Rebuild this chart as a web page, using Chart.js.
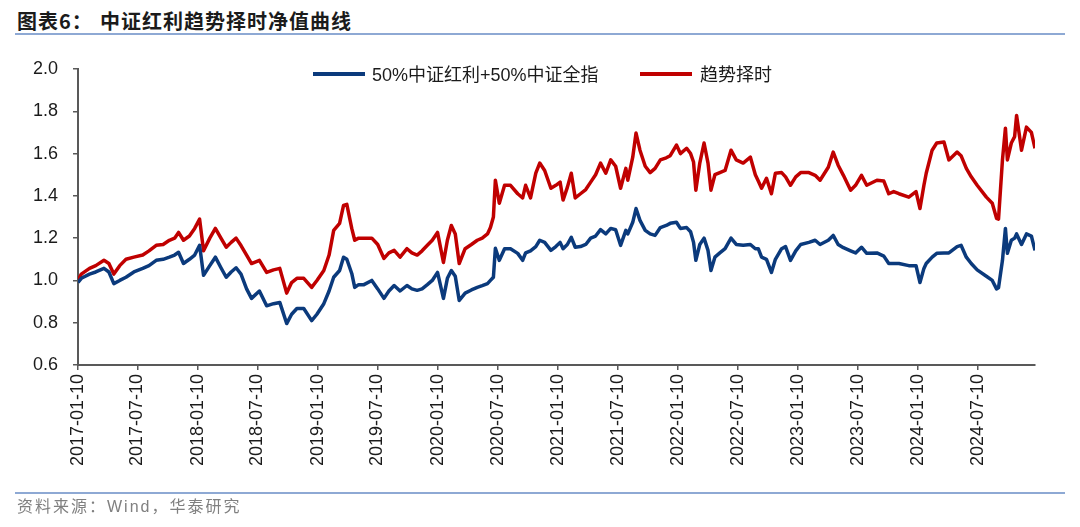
<!DOCTYPE html>
<html>
<head>
<meta charset="utf-8">
<script src="https://cdn.jsdelivr.net/npm/chart.js@4.4.1/dist/chart.umd.min.js"></script>
<style>
    body { margin: 0; background: #fff; width: 1080px; height: 527px; overflow: hidden; position: relative; font-family: "Liberation Sans", "Noto Sans CJK SC", sans-serif; }
    #chartBox { position: absolute; left: 0; top: 0; width: 1080px; height: 527px; }
    .title { position: absolute; top: 11px; font: bold 20px "Noto Sans CJK SC", sans-serif; letter-spacing: 1px; color: #1b1b1b; line-height: 20px; white-space: nowrap; }
    .hline { position: absolute; left: 15px; width: 1050px; height: 1.5px; background: #8ea9d4; }
    .legend-line { position: absolute; width: 52px; height: 4px; }
    .legend-text { position: absolute; top: 65px; font-size: 18px; line-height: 20px; color: #1b1b1b; white-space: nowrap; }
    #source { position: absolute; left: 17px; top: 498px; font-size: 16px; letter-spacing: 2px; color: #808080; line-height: 18px; white-space: nowrap; }
</style>
</head>
<body>
<div class="title" style="left:17px">图表6：</div>
<div class="title" style="left:100px">中证红利趋势择时净值曲线</div>
<div class="hline" style="top:33px"></div>

<div id="chartBox"><canvas id="navChart" width="1080" height="527"></canvas></div>

<div class="legend-line" style="left:313px;top:72px;background:#0b3a7c"></div>
<div class="legend-text" style="left:372px">50%中证红利+50%中证全指</div>
<div class="legend-line" style="left:640px;top:72px;background:#c00000"></div>
<div class="legend-text" style="left:700px">趋势择时</div>

<div class="hline" style="top:492px"></div>
<div id="source">资料来源：Wind，华泰研究</div>

<script>
// data
const dates = [
    '2017-01-10','2017-01-20','2017-02-14','2017-03-05','2017-03-30','2017-04-14','2017-04-29','2017-05-17','2017-06-05','2017-06-29',
    '2017-07-26','2017-08-14','2017-09-05','2017-09-26','2017-10-15','2017-10-31','2017-11-12','2017-11-27','2017-12-15','2017-12-31',
    '2018-01-15','2018-01-27','2018-02-15','2018-03-04','2018-03-21','2018-04-06','2018-04-21','2018-05-06','2018-05-21','2018-06-07',
    '2018-06-22','2018-07-16','2018-08-07','2018-08-28','2018-09-16','2018-10-07','2018-10-22','2018-11-07','2018-11-28','2018-12-22',
    '2019-01-07','2019-01-28','2019-02-13','2019-02-27','2019-03-17','2019-03-29','2019-04-08','2019-04-23','2019-05-02','2019-05-14',
    '2019-05-30','2019-06-23','2019-07-11','2019-07-30','2019-08-14','2019-08-30','2019-09-17','2019-10-08','2019-10-23','2019-11-08',
    '2019-11-23','2019-12-09','2019-12-24','2020-01-09','2020-01-27','2020-02-08','2020-02-20','2020-03-03','2020-03-15','2020-04-02',
    '2020-04-21','2020-05-09','2020-05-24','2020-06-09','2020-06-18','2020-06-27','2020-07-03','2020-07-15','2020-07-31','2020-08-18',
    '2020-09-09','2020-09-24','2020-10-03','2020-10-18','2020-11-03','2020-11-15','2020-11-30','2020-12-19','2021-01-03','2021-01-16',
    '2021-01-25','2021-02-07','2021-02-19','2021-03-03','2021-03-19','2021-04-04','2021-04-19','2021-05-04','2021-05-19','2021-06-04',
    '2021-06-19','2021-07-04','2021-07-19','2021-08-04','2021-08-10','2021-08-25','2021-09-04','2021-09-16','2021-10-02','2021-10-17',
    '2021-11-01','2021-11-17','2021-12-05','2021-12-17','2022-01-05','2022-01-17','2022-02-05','2022-02-17','2022-02-26','2022-03-05',
    '2022-03-17','2022-03-30','2022-04-11','2022-04-20','2022-05-02','2022-05-17','2022-06-02','2022-06-20','2022-07-06','2022-07-27',
    '2022-08-18','2022-09-02','2022-09-11','2022-09-21','2022-10-06','2022-10-21','2022-11-02','2022-11-21','2022-12-03','2022-12-18',
    '2023-01-03','2023-01-18','2023-02-12','2023-03-03','2023-03-18','2023-04-12','2023-04-27','2023-05-12','2023-05-28','2023-06-19',
    '2023-07-04','2023-07-22','2023-08-07','2023-09-07','2023-09-28','2023-10-13','2023-10-28','2023-11-13','2023-12-13','2024-01-04',
    '2024-01-16','2024-01-28','2024-02-04','2024-02-22','2024-03-07','2024-03-29','2024-04-13','2024-05-08','2024-05-20','2024-06-05',
    '2024-06-20','2024-07-08','2024-08-05','2024-08-23','2024-09-05','2024-09-11','2024-09-23','2024-10-02','2024-10-08','2024-10-20',
    '2024-10-30','2024-11-05','2024-11-20','2024-12-05','2024-12-20','2024-12-31'
];

// 50%中证红利+50%中证全指
const benchmark = [
    0.99, 1.01, 1.03, 1.04, 1.057, 1.04, 0.985, 1.00, 1.015, 1.04,
    1.057, 1.07, 1.095, 1.10, 1.11, 1.12, 1.133, 1.08, 1.10, 1.12,
    1.166, 1.024, 1.07, 1.11, 1.06, 1.015, 1.04, 1.06, 1.03, 0.96,
    0.915, 0.95, 0.88, 0.89, 0.896, 0.796, 0.84, 0.867, 0.867, 0.81,
    0.84, 0.89, 0.95, 1.015, 1.047, 1.11, 1.10, 1.033, 0.967, 0.98,
    0.98, 1.00, 0.96, 0.915, 0.95, 0.976, 0.95, 0.976, 0.96, 0.953,
    0.96, 0.98, 1.00, 1.038, 0.915, 1.01, 1.047, 1.02, 0.905, 0.94,
    0.955, 0.967, 0.975, 0.985, 1.00, 1.015, 1.152, 1.095, 1.15, 1.15,
    1.128, 1.095, 1.13, 1.14, 1.16, 1.19, 1.18, 1.142, 1.16, 1.18,
    1.15, 1.17, 1.204, 1.157, 1.16, 1.17, 1.20, 1.21, 1.24, 1.22,
    1.246, 1.24, 1.166, 1.237, 1.22, 1.275, 1.34, 1.284, 1.237, 1.22,
    1.213, 1.25, 1.26, 1.27, 1.275, 1.246, 1.25, 1.23, 1.18, 1.095,
    1.17, 1.20, 1.142, 1.047, 1.11, 1.13, 1.15, 1.20, 1.17, 1.166,
    1.17, 1.15, 1.15, 1.11, 1.10, 1.038, 1.10, 1.15, 1.16, 1.095,
    1.14, 1.17, 1.18, 1.19, 1.17, 1.19, 1.213, 1.17, 1.155, 1.14,
    1.13, 1.157, 1.128, 1.13, 1.115, 1.08, 1.08, 1.08, 1.07, 1.07,
    0.99, 1.057, 1.08, 1.11, 1.128, 1.13, 1.13, 1.16, 1.166, 1.11,
    1.08, 1.05, 1.02, 1.00, 0.96, 0.965, 1.095, 1.246, 1.128, 1.19,
    1.20, 1.22, 1.17, 1.22, 1.21, 1.142
];

// 趋势择时
const timing = [
    1.00, 1.03, 1.057, 1.07, 1.095, 1.08, 1.03, 1.07, 1.10, 1.11,
    1.12, 1.14, 1.166, 1.17, 1.19, 1.20, 1.227, 1.19, 1.21, 1.246,
    1.29, 1.14, 1.20, 1.246, 1.20, 1.157, 1.18, 1.20, 1.165, 1.12,
    1.08, 1.095, 1.038, 1.05, 1.057, 0.94, 0.99, 1.01, 1.01, 0.967,
    1.00, 1.047, 1.12, 1.237, 1.27, 1.355, 1.36, 1.246, 1.19, 1.20,
    1.20, 1.20, 1.17, 1.104, 1.13, 1.142, 1.11, 1.15, 1.13, 1.12,
    1.14, 1.166, 1.19, 1.227, 1.085, 1.19, 1.26, 1.22, 1.08, 1.15,
    1.17, 1.19, 1.20, 1.22, 1.25, 1.30, 1.474, 1.365, 1.45, 1.45,
    1.41, 1.39, 1.45, 1.39, 1.507, 1.555, 1.52, 1.436, 1.45, 1.465,
    1.38, 1.44, 1.507, 1.39, 1.41, 1.43, 1.465, 1.50, 1.555, 1.507,
    1.57, 1.54, 1.436, 1.53, 1.474, 1.583, 1.697, 1.616, 1.54, 1.51,
    1.53, 1.57, 1.58, 1.59, 1.64, 1.60, 1.625, 1.60, 1.56, 1.427,
    1.555, 1.65, 1.555, 1.427, 1.50, 1.51, 1.52, 1.616, 1.57, 1.555,
    1.583, 1.50, 1.47, 1.436, 1.483, 1.41, 1.507, 1.51, 1.49, 1.45,
    1.49, 1.51, 1.51, 1.497, 1.474, 1.535, 1.607, 1.545, 1.497, 1.427,
    1.45, 1.497, 1.45, 1.474, 1.47, 1.41, 1.42, 1.41, 1.394, 1.42,
    1.34, 1.45, 1.507, 1.616, 1.65, 1.655, 1.57, 1.607, 1.59, 1.53,
    1.49, 1.45, 1.394, 1.365, 1.294, 1.29, 1.57, 1.72, 1.57, 1.65,
    1.68, 1.78, 1.616, 1.725, 1.70, 1.625
];

const tickLabels = [
    '2017-01-10','2017-07-10','2018-01-10','2018-07-10','2019-01-10','2019-07-10','2020-01-10','2020-07-10',
    '2021-01-10','2021-07-10','2022-01-10','2022-07-10','2023-01-10','2023-07-10','2024-01-10','2024-07-10'
];

// day number, so the x axis can be a plain linear scale
const toDay = (s) => Date.parse(s) / 864e5;

const axisColor = '#595959';
const tickFont = { family: 'Liberation Sans', size: 18 };

new Chart(document.getElementById('navChart'), {
    type: 'line',
    data: {
        datasets: [
            {
                label: '50%中证红利+50%中证全指',
                data: dates.map((d, i) => ({ x: toDay(d), y: benchmark[i] })),
                borderColor: '#0b3a7c',
                borderWidth: 3.5
            },
            {
                label: '趋势择时',
                data: dates.map((d, i) => ({ x: toDay(d), y: timing[i] })),
                borderColor: '#c00000',
                borderWidth: 3.5
            }
        ]
    },
    options: {
        responsive: false,
        animation: false,
        layout: { padding: { top: 69, right: 45, left: 0, bottom: 0 } },
        elements: { point: { radius: 0 }, line: { tension: 0, borderJoinStyle: 'round' } },
        plugins: { legend: { display: false }, tooltip: { enabled: false } },
        scales: {
            x: {
                type: 'linear',
                min: toDay(dates[0]),
                max: toDay(dates[dates.length - 1]),
                afterBuildTicks: (scale) => {
                    scale.ticks = tickLabels.map(t => ({ value: toDay(t) }));
                },
                afterFit: (scale) => { scale.height = 162; },
                ticks: {
                    autoSkip: false,
                    minRotation: 90,
                    maxRotation: 90,
                    padding: 4,
                    color: '#1b1b1b',
                    font: tickFont,
                    callback: (v, i) => tickLabels[i]
                },
                grid: { drawOnChartArea: false, drawTicks: true, tickLength: 5, color: axisColor, lineWidth: 1.5 },
                border: { color: axisColor, width: 2 }
            },
            y: {
                min: 0.6,
                max: 2.0,
                afterFit: (scale) => { scale.width = 78; },
                ticks: {
                    stepSize: 0.2,
                    padding: 15,
                    color: '#1b1b1b',
                    font: tickFont,
                    callback: (v) => v.toFixed(1)
                },
                grid: { drawOnChartArea: false, drawTicks: true, tickLength: 5, color: axisColor, lineWidth: 1.5 },
                border: { color: axisColor, width: 2 }
            }
        }
    }
});
</script>
</body>
</html>
